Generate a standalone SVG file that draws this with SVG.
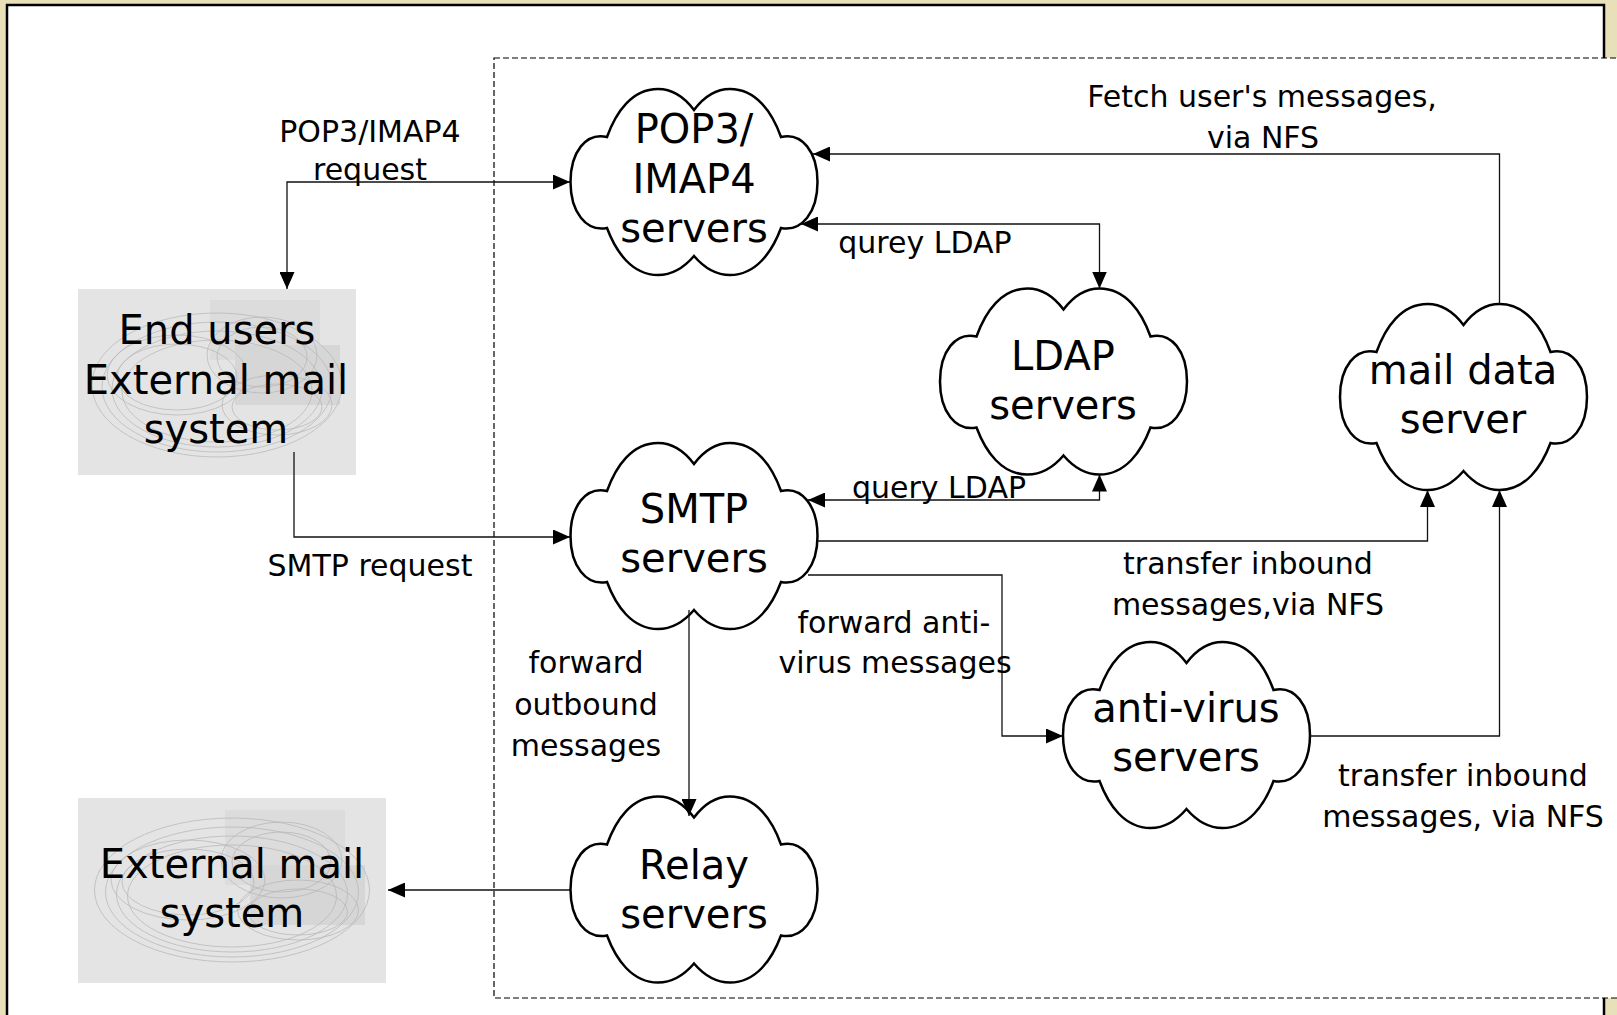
<svg xmlns="http://www.w3.org/2000/svg" xmlns:xlink="http://www.w3.org/1999/xlink" width="1617" height="1015" viewBox="0 0 1617 1015">
<style>
.node{font-family:"DejaVu Sans","Liberation Sans",sans-serif;font-size:40px;fill:#000;text-anchor:middle}
.lbl{font-family:"DejaVu Sans","Liberation Sans",sans-serif;font-size:30px;fill:#000;text-anchor:middle}
.cloud{fill:#fff;stroke:#000;stroke-width:2.5}
.conn{fill:none;stroke:#111;stroke-width:1.3}
.tex{fill:none;stroke:#b5b5b5;stroke-width:0.7}
</style>
<defs>
<path id="cloud" d="M0,-72 C12,-88 24,-93 36,-93 C62,-93 78,-70 87,-45 C108,-50 123.5,-30 123.5,0 C123.5,30 108,50 87,46 C78,70 62,93 36,93 C24,93 12,88 0,74 C-12,88 -24,93 -36,93 C-62,93 -78,70 -87,46 C-108,50 -123.5,30 -123.5,0 C-123.5,-30 -108,-50 -87,-45 C-78,-70 -62,-93 -36,-93 C-24,-93 -12,-88 0,-72 Z"/>
<marker id="arr" markerUnits="userSpaceOnUse" markerWidth="17" markerHeight="15" refX="17" refY="7.5" orient="auto-start-reverse">
<path d="M0,0 L17,7.5 L0,15 Z" fill="#000"/>
</marker>
<clipPath id="clipA"><rect x="78" y="289" width="278" height="186"/></clipPath>
<clipPath id="clipB"><rect x="78" y="798" width="308" height="185"/></clipPath>
<g id="texture">
<ellipse class="tex" cx="0" cy="0" rx="125" ry="72"/>
<ellipse class="tex" cx="0" cy="2" rx="115" ry="65"/>
<ellipse class="tex" cx="0" cy="4" rx="105" ry="58"/>
<ellipse class="tex" cx="0" cy="6" rx="95" ry="51"/>
<ellipse class="tex" cx="-40" cy="-10" rx="70" ry="40"/>
<ellipse class="tex" cx="-40" cy="-8" rx="60" ry="33"/>
<ellipse class="tex" cx="45" cy="-30" rx="55" ry="38"/>
<ellipse class="tex" cx="45" cy="-28" rx="45" ry="30"/>
<ellipse class="tex" cx="60" cy="20" rx="55" ry="30"/>
<ellipse class="tex" cx="60" cy="22" rx="45" ry="23"/>
</g>
</defs>

<rect x="0" y="0" width="1617" height="1015" fill="#E8E0B8"/>
<rect x="7" y="5" width="1597" height="1030" fill="#fff" stroke="#000" stroke-width="2.5"/>
<rect x="494" y="58" width="1140" height="940" fill="#fff" stroke="#000" stroke-width="1.2" stroke-dasharray="6,3"/>

<g id="end-users">
<rect x="78" y="289" width="278" height="186" fill="#e4e4e4"/>
<g clip-path="url(#clipA)">
<rect x="210" y="300" width="110" height="60" fill="#dcdcdc"/>
<rect x="235" y="345" width="105" height="60" fill="#d6d6d6"/>
<use href="#texture" transform="translate(217,385)"/>
</g>
<text class="node" x="217" y="344">End users</text>
<text class="node" x="216" y="394">External mail</text>
<text class="node" x="216" y="443">system</text>
</g>

<g id="external-mail">
<rect x="78" y="798" width="308" height="185" fill="#e4e4e4"/>
<g clip-path="url(#clipB)">
<rect x="225" y="810" width="120" height="75" fill="#dcdcdc"/>
<rect x="250" y="865" width="115" height="60" fill="#d6d6d6"/>
<use href="#texture" transform="translate(232,890) scale(1.1,1)"/>
</g>
<text class="node" x="232" y="878">External mail</text>
<text class="node" x="232" y="927">system</text>
</g>

<g id="pop3">
<use href="#cloud" class="cloud" transform="translate(694,182)"/>
<text class="node" x="694" y="143">POP3/</text>
<text class="node" x="694" y="193">IMAP4</text>
<text class="node" x="694" y="242">servers</text>
</g>

<g id="ldap">
<use href="#cloud" class="cloud" transform="translate(1063.5,381.5)"/>
<text class="node" x="1063" y="370">LDAP</text>
<text class="node" x="1063" y="419">servers</text>
</g>

<g id="maildata">
<use href="#cloud" class="cloud" transform="translate(1463.5,397)"/>
<text class="node" x="1463" y="384">mail data</text>
<text class="node" x="1463" y="433">server</text>
</g>

<g id="smtp">
<use href="#cloud" class="cloud" transform="translate(694,536)"/>
<text class="node" x="694" y="523">SMTP</text>
<text class="node" x="694" y="572">servers</text>
</g>

<g id="antivirus">
<use href="#cloud" class="cloud" transform="translate(1186.5,735)"/>
<text class="node" x="1186" y="722">anti-virus</text>
<text class="node" x="1186" y="771">servers</text>
</g>

<g id="relay">
<use href="#cloud" class="cloud" transform="translate(694,889.5)"/>
<text class="node" x="694" y="879">Relay</text>
<text class="node" x="694" y="928">servers</text>
</g>

<g id="connectors">
<path class="conn" d="M287,289 V182 H570" marker-start="url(#arr)" marker-end="url(#arr)"/>
<path class="conn" d="M294,452 V537 H570" marker-end="url(#arr)"/>
<path class="conn" d="M570,890 H388" marker-end="url(#arr)"/>
<path class="conn" d="M689,610 V816" marker-end="url(#arr)"/>
<path class="conn" d="M808,500 H1099.5 V474.5" marker-start="url(#arr)" marker-end="url(#arr)"/>
<path class="conn" d="M801,224 H1099.5 V288.5" marker-start="url(#arr)" marker-end="url(#arr)"/>
<path class="conn" d="M1499.5,304 V154 H813" marker-end="url(#arr)"/>
<path class="conn" d="M818,541 H1427.5 V490" marker-end="url(#arr)"/>
<path class="conn" d="M808,575 H1002 V736 H1063" marker-end="url(#arr)"/>
<path class="conn" d="M1310,736 H1499.5 V490" marker-end="url(#arr)"/>

<text class="lbl" x="370" y="142">POP3/IMAP4</text>
<text class="lbl" x="370" y="180">request</text>
<text class="lbl" x="370" y="576">SMTP request</text>
<text class="lbl" x="925" y="253">qurey LDAP</text>
<text class="lbl" x="939" y="498">query LDAP</text>
<text class="lbl" x="1262" y="107">Fetch user's messages,</text>
<text class="lbl" x="1263" y="148">via NFS</text>
<text class="lbl" x="1248" y="574">transfer inbound</text>
<text class="lbl" x="1248" y="615">messages,via NFS</text>
<text class="lbl" x="894" y="633">forward anti-</text>
<text class="lbl" x="895" y="673">virus messages</text>
<text class="lbl" x="1463" y="786">transfer inbound</text>
<text class="lbl" x="1463" y="827">messages, via NFS</text>
<text class="lbl" x="586" y="673">forward</text>
<text class="lbl" x="586" y="715">outbound</text>
<text class="lbl" x="586" y="756">messages</text>
</g>
</svg>
